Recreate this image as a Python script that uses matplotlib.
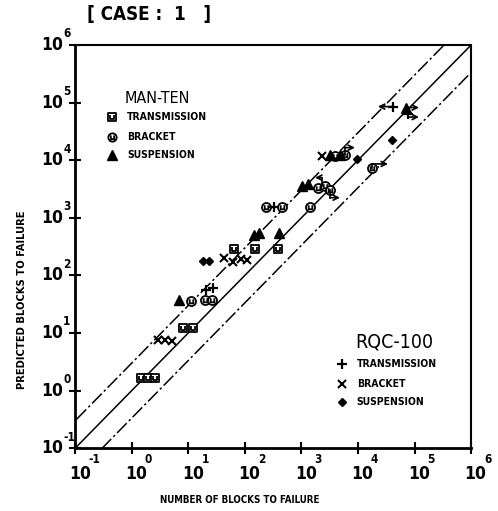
import numpy as np
import matplotlib
matplotlib.use("Agg")
import matplotlib.pyplot as plt
from matplotlib.path import Path
from matplotlib.transforms import offset_copy

# scatter band around the 1:1 line
band_factor = 3.0

# MAN-TEN specimens: (experimental blocks, predicted blocks)
mt_trans_x = [1.47, 1.95, 2.6, 8.1, 12.2, 64, 151, 386]
mt_trans_y = [1.65, 1.65, 1.65, 12.2, 12.2, 289, 289, 289]
mt_brack_x = [11.1, 19.8, 26.3, 237, 454, 1419, 1963, 2610, 3200, 3930, 5890, 17650]
mt_brack_y = [36.5, 37.5, 37.5, 1524, 1524, 1535, 3330, 3600, 3070, 11970, 12470, 7410]
mt_susp_x = [6.9, 146, 178, 402, 1023, 1310, 3200, 4810, 70500]
mt_susp_y = [37.5, 506, 548, 548, 3600, 3900, 12470, 12470, 81900]

# RQC-100 specimens
rqc_trans_x = [20.6, 27.4, 328, 41500, 76400]
rqc_trans_y = [56, 60.7, 1510, 85100, 64400]
rqc_brack_x = [2.93, 3.89, 5.17, 43, 61.7, 85.7, 109, 2312]
rqc_brack_y = [7.55, 7.55, 7.26, 201, 172, 194, 186, 11970]
rqc_susp_x = [18.2, 23.3, 9590, 39900]
rqc_susp_y = [179, 179, 10600, 22750]

# run-outs: start x, start y, bend y, end x
runout_x0 = [5890, 3200, 2312, 17650, 70500, 76400, 41500]
runout_y0 = [12470, 3070, 3600, 7410, 81900, 64400, 85100]
runout_yb = [16500, 2230, 4970, 8600, 81900, 56000, 85100]
runout_x1 = [8850, 4810, 1740, 33900, 120000, 120000, 22500]

decades = list(range(-1, 7))

narrow = dict(family="DejaVu Sans", fontstretch="condensed")


def boxed_u(round_box=False):
    # outline (square or circle) with a small "U" inside
    if round_box:
        outer = Path.unit_circle()
        ov, oc = list(outer.vertices), list(outer.codes)
    else:
        ov = [(-1, -1), (1, -1), (1, 1), (-1, 1), (-1, -1)]
        oc = [Path.MOVETO, Path.LINETO, Path.LINETO, Path.LINETO, Path.CLOSEPOLY]
    uv = [(-0.4, 0.5), (-0.4, -0.4), (0.4, -0.4), (0.4, 0.5)]
    uc = [Path.MOVETO, Path.LINETO, Path.LINETO, Path.LINETO]
    return Path(ov + uv, oc + uc)


sq_mark = boxed_u(False)
ci_mark = boxed_u(True)

fig = plt.figure(figsize=(4.98, 5.11), dpi=100)
ax = fig.add_axes([0.151, 0.123, 0.795, 0.789])
ax.set_xscale("log")
ax.set_yscale("log")
ax.set_xlim(1e-1, 1e6)
ax.set_ylim(1e-1, 1e6)

# 1:1 line and factor band
xs = np.array([1e-3, 1e8])
ax.plot(xs, xs, color="black", lw=1.1)
ax.plot(xs, xs * band_factor, color="black", lw=1.1, dashes=(9, 2, 1.5, 2))
ax.plot(xs, xs / band_factor, color="black", lw=1.1, dashes=(9, 2, 1.5, 2))

mk = dict(color="black", linestyle="none")
ax.plot(mt_trans_x, mt_trans_y, marker=sq_mark, markersize=6, markerfacecolor="white",
        markeredgewidth=1.3, **mk)
ax.plot(mt_brack_x, mt_brack_y, marker=ci_mark, markersize=6.5, markerfacecolor="white",
        markeredgewidth=1.3, **mk)
ax.plot(mt_susp_x, mt_susp_y, marker="^", markersize=6.5, **mk)
ax.plot(rqc_trans_x, rqc_trans_y, marker="+", markersize=7, markeredgewidth=1.6, **mk)
ax.plot(rqc_brack_x, rqc_brack_y, marker="x", markersize=6, markeredgewidth=1.5, **mk)
ax.plot(rqc_susp_x, rqc_susp_y, marker="D", markersize=4.5, **mk)

# run-out arrows
for x0, y0, yb, x1 in zip(runout_x0, runout_y0, runout_yb, runout_x1):
    if yb != y0:
        ax.plot([x0, x0], [y0, yb], color="black", lw=1.2)
    ax.annotate("", xy=(x1, yb), xytext=(x0, yb),
                arrowprops=dict(arrowstyle="->", lw=1.2, color="black",
                                shrinkA=0, shrinkB=0, mutation_scale=9))

# axes styling
for side in ["left", "bottom"]:
    ax.spines[side].set_linewidth(2.0)
for side in ["top", "right"]:
    ax.spines[side].set_linewidth(1.5)
ax.minorticks_off()
ax.set_xticks([10.0 ** d for d in decades])
ax.set_yticks([10.0 ** d for d in decades])
ax.set_xticklabels([])
ax.set_yticklabels([])
ax.tick_params(direction="inout", length=8, width=1.5)

# decade labels drawn as "10" with a raised exponent
base_kw = dict(fontsize=12.5, fontweight="bold", **narrow)
exp_kw = dict(fontsize=8.5, fontweight="bold", **narrow)
xtr = ax.get_xaxis_transform()
ytr = ax.get_yaxis_transform()
for d in decades:
    v = 10.0 ** d
    ax.text(v, 0, "10", transform=offset_copy(xtr, fig, x=4.5, y=-26, units="dots"),
            ha="center", va="center", **base_kw)
    ax.text(v, 0, str(d), transform=offset_copy(xtr, fig, x=13, y=-11, units="dots"),
            ha="left", va="center", **exp_kw)
    ax.text(0, v, "10", transform=offset_copy(ytr, fig, x=-12, y=0, units="dots"),
            ha="right", va="center", **base_kw)
    ax.text(0, v, str(d), transform=offset_copy(ytr, fig, x=-12, y=11, units="dots"),
            ha="left", va="center", **exp_kw)

fig.text(0.175, 0.972, "[ CASE :  1   ]", fontsize=13.5, fontweight="bold",
         va="center", ha="left", **narrow)
fig.text(0.482, 0.022, "NUMBER OF BLOCKS TO FAILURE", fontsize=7, fontweight="bold",
         va="center", ha="center", **narrow)
fig.text(0.044, 0.413, "PREDICTED BLOCKS TO FAILURE", fontsize=8, fontweight="bold",
         va="center", ha="center", rotation=90, **narrow)

# MAN-TEN key
ax.text(0.126, 0.868, "MAN-TEN", transform=ax.transAxes, fontsize=11.5,
        va="center", ha="left", **narrow)
ax.plot([0.093], [0.821], transform=ax.transAxes, marker=sq_mark, markersize=5.5,
        markerfacecolor="white", markeredgewidth=1.3, **mk)
ax.plot([0.093], [0.772], transform=ax.transAxes, marker=ci_mark, markersize=6,
        markerfacecolor="white", markeredgewidth=1.3, **mk)
ax.plot([0.093], [0.727], transform=ax.transAxes, marker="^", markersize=6.5, **mk)
for yy, lab in zip([0.821, 0.772, 0.727], ["TRANSMISSION", "BRACKET", "SUSPENSION"]):
    ax.text(0.131, yy, lab, transform=ax.transAxes, fontsize=7.5, fontweight="bold",
            va="center", ha="left", **narrow)

# RQC-100 key
ax.text(0.707, 0.263, "RQC-100", transform=ax.transAxes, fontsize=14,
        va="center", ha="left", **narrow)
ax.plot([0.673], [0.208], transform=ax.transAxes, marker="+", markersize=7,
        markeredgewidth=1.6, **mk)
ax.plot([0.673], [0.159], transform=ax.transAxes, marker="x", markersize=6,
        markeredgewidth=1.5, **mk)
ax.plot([0.673], [0.114], transform=ax.transAxes, marker="D", markersize=4.5, **mk)
for yy, lab in zip([0.208, 0.159, 0.114], ["TRANSMISSION", "BRACKET", "SUSPENSION"]):
    ax.text(0.711, yy, lab, transform=ax.transAxes, fontsize=7.5, fontweight="bold",
            va="center", ha="left", **narrow)

fig.savefig("out.png", dpi=100)
